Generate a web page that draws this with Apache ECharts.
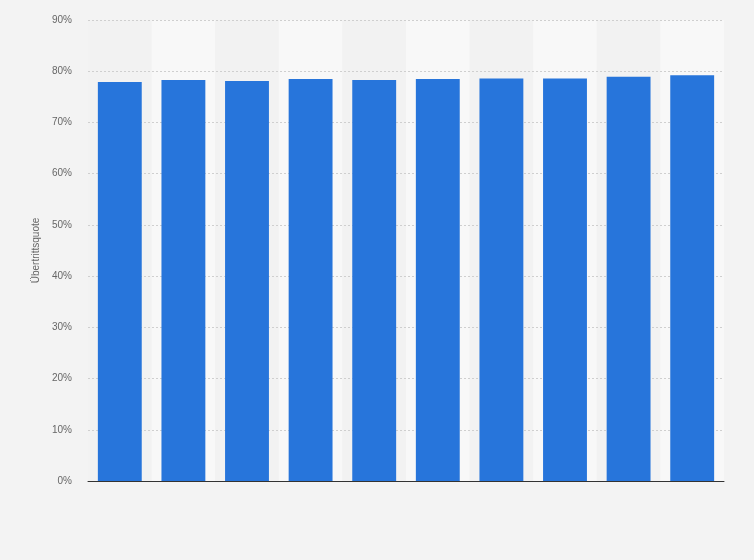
<!DOCTYPE html>
<html>
<head>
<meta charset="utf-8">
<script src="https://cdn.jsdelivr.net/npm/echarts@6/dist/echarts.min.js"></script>
<style>
  html, body { margin: 0; padding: 0; background: #f3f3f3; }
  #chart { width: 754px; height: 560px; }
</style>
</head>
<body>
<div id="chart"></div>
<script>
// Kategorien ohne Beschriftung im Original
const categories = ['1', '2', '3', '4', '5', '6', '7', '8', '9', '10']
const quoteValues = [77.9, 78.3, 78.1, 78.5, 78.3, 78.5, 78.6, 78.6, 78.9, 79.2]
const yTicks = { min: 0, max: 90, interval: 10 }

const chart = echarts.init(document.getElementById('chart'))

const option = {
  backgroundColor: '#f3f3f3',
  animation: false,
  grid: {
    left: 88,
    right: 30,
    top: 20,
    bottom: 79
  },
  xAxis: {
    type: 'category',
    data: categories,
    z: 0,
    axisLine: { show: true, lineStyle: { color: '#333', width: 1 } },
    axisTick: { show: false },
    axisLabel: { show: false },
    splitArea: {
      show: true,
      areaStyle: { color: ['#f2f2f2', '#f8f8f8'] }
    }
  },
  yAxis: {
    type: 'value',
    z: 1,
    min: yTicks.min,
    max: yTicks.max,
    interval: yTicks.interval,
    name: 'Übertrittsquote',
    nameLocation: 'middle',
    nameGap: 42,
    nameTextStyle: { color: '#666', fontSize: 10, fontFamily: 'Liberation Sans' },
    axisLine: { show: false },
    axisTick: { show: false },
    axisLabel: {
      formatter: '{value}%',
      color: '#666',
      fontSize: 10,
      fontFamily: 'Liberation Sans',
      margin: 16
    },
    splitLine: {
      show: true,
      showMinLine: false,
      lineStyle: { color: '#cfcfcf', type: [2, 2], width: 1 }
    }
  },
  series: [{
    type: 'bar',
    data: quoteValues,
    z: 2,
    barCategoryGap: '31%',
    itemStyle: { color: '#2775db' }
  }]
}

chart.setOption(option)
</script>
</body>
</html>
